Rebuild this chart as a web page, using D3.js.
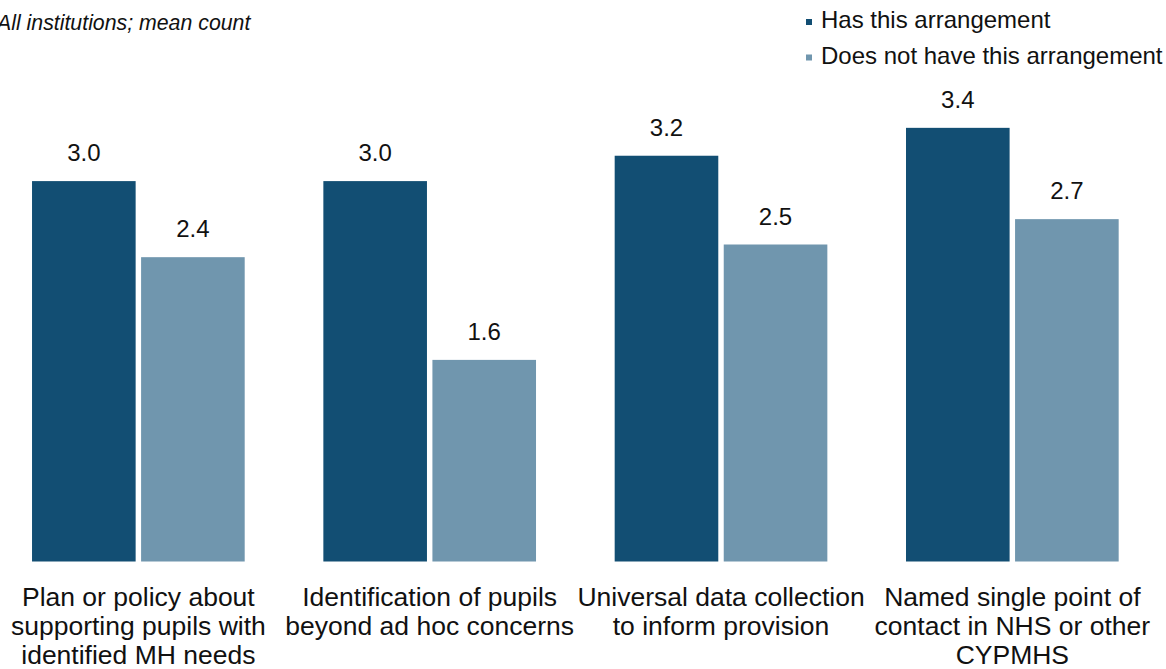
<!DOCTYPE html>
<html>
<head>
<meta charset="utf-8">
<script src="https://cdn.jsdelivr.net/npm/d3@7"></script>
<style>
  html, body { margin: 0; padding: 0; background: #fff; }
  svg { display: block; font-family: Arial, "Liberation Sans", sans-serif; }
</style>
</head>
<body>
<svg id="chart" width="1166" height="669"></svg>
<script>
// data
const categories = [
  ['Plan or policy about', 'supporting pupils with', 'identified MH needs'],
  ['Identification of pupils', 'beyond ad hoc concerns'],
  ['Universal data collection', 'to inform provision'],
  ['Named single point of', 'contact in NHS or other', 'CYPMHS'],
];
const seriesNames = ['Has this arrangement', 'Does not have this arrangement'];
const hasValues = [3.0, 3.0, 3.2, 3.42];
const notValues = [2.4, 1.59, 2.5, 2.7];
const colors = ['#124e73', '#7096ae'];

const svg = d3.select('#chart');
const bottom = 561.5;

const x0 = d3.scaleBand()
  .domain(d3.range(categories.length))
  .range([-7.3, 1158])
  .paddingInner(0.27)
  .paddingOuter(0.135);

const x1 = d3.scaleBand()
  .domain(d3.range(seriesNames.length))
  .range([0, x0.bandwidth()])
  .paddingInner(0.05);

const y = d3.scaleLinear()
  .domain([0, 4])
  .range([bottom, bottom - 4 * 126.8]);

const rows = categories.map((c, i) => [hasValues[i], notValues[i]]);

/// d3 add groups of bars
const groups = svg.selectAll('g.group')
  .data(rows)
  .enter().append('g')
  .attr('class', 'group')
  .attr('transform', (_, i) => `translate(${x0(i)},0)`);

groups.selectAll('rect')
  .data((d) => d)
  .enter().append('rect')
  .attr('x', (_, j) => x1(j))
  .attr('y', (d) => y(d))
  .attr('width', x1.bandwidth())
  .attr('height', (d) => y(0) - y(d))
  .attr('fill', (_, j) => colors[j]);

groups.selectAll('text.value')
  .data((d) => d)
  .enter().append('text')
  .attr('class', 'value')
  .attr('x', (_, j) => x1(j) + x1.bandwidth() / 2)
  .attr('y', (d) => y(d) - 20)
  .attr('text-anchor', 'middle')
  .style('font-size', '24px')
  .style('fill', '#111')
  .text((d) => d.toFixed(1));

/// category labels, centred under each group
svg.selectAll('text.cat')
  .data(categories)
  .enter().append('text')
  .attr('class', 'cat')
  .attr('text-anchor', 'middle')
  .style('font-size', '26.5px')
  .style('fill', '#111')
  .each(function (lines, i) {
    const cx = x0(i) + x0.bandwidth() / 2;
    d3.select(this).selectAll('tspan')
      .data(lines)
      .enter().append('tspan')
      .attr('x', cx)
      .attr('y', (_, k) => 606 + k * 29.2)
      .text((t) => t);
  });

/// subtitle
svg.append('text')
  .attr('x', -3)
  .attr('y', 30)
  .style('font-size', '21.3px')
  .style('font-style', 'italic')
  .style('fill', '#111')
  .text('All institutions; mean count');

/// legend
const legend = svg.selectAll('g.legend')
  .data(seriesNames)
  .enter().append('g')
  .attr('class', 'legend')
  .attr('transform', (_, i) => `translate(806,${28 + i * 35.5})`);

legend.append('rect')
  .attr('x', 0)
  .attr('y', -9)
  .attr('width', 6)
  .attr('height', 6)
  .attr('fill', (_, i) => colors[i]);

legend.append('text')
  .attr('x', 15)
  .attr('y', 0)
  .style('font-size', '24px')
  .style('fill', '#111')
  .text((d) => d);
</script>
</body>
</html>
